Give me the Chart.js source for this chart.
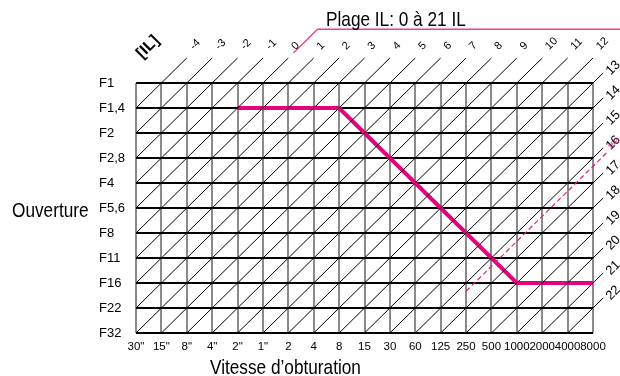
<!DOCTYPE html>
<html>
<head>
<meta charset="utf-8">
<script src="https://cdn.jsdelivr.net/npm/chart.js@4.4.1/dist/chart.umd.min.js"></script>
<style>
  html, body { margin: 0; padding: 0; background: #fff; }
  #wrap { width: 620px; height: 376px; }
</style>
</head>
<body>
<div id="wrap"><canvas id="ilChart" width="620" height="376"></canvas></div>
<script>
// Axes
const speeds = ['30"', '15"', '8"', '4"', '2"', '1"', '2', '4', '8', '15', '30', '60', '125', '250', '500', '1000', '2000', '4000', '8000']
const apertures = ['F1', 'F1,4', 'F2', 'F2,8', 'F4', 'F5,6', 'F8', 'F11', 'F16', 'F22', 'F32']

// IL (EV) lines, -4 .. 22
const ilValues = [-4, -3, -2, -1, 0, 1, 2, 3, 4, 5, 6, 7, 8, 9, 10, 11, 12, 13, 14, 15, 16, 17, 18, 19, 20, 21, 22]

// Programme line : speed / aperture at each corner
const progSpeed = ['2"', '8', '1000', '8000']
const progAperture = ['F1,4', 'F1,4', 'F16', 'F16']

// Dashed limit line (IL 16 1/3) and where it runs (speed index)
const limitIL = 16.33
const limitLabel = '16⅓'
const limitFrom = 13.0
const limitTo = 18.6

// Range bracket "Plage IL: 0 à 21 IL"
const rangeText = 'Plage IL: 0 à 21 IL'
const rangeStartIL = 0
const rangeRise = [-1.2, -2.15]  // aperture index where the bracket leaves the IL 0 line / runs flat
const rangeEnd = 19.2

const PINK = '#e5007e'

// IL value at (speed index i, aperture index j) is i + j - 5
const ilToSum = il => il + 5
const sIdx = s => speeds.indexOf(s)
const aIdx = a => apertures.indexOf(a)

function ilSegment(il) {
  const k = ilToSum(il)
  const x0 = Math.max(0, k - 10)
  const x1 = Math.min(18, k)
  // top lines run one cell past the grid, right ones only a short stub
  const ext = x1 < 18 ? 1 : 0.4
  return [{ x: x0, y: k - x0 }, { x: x1 + ext, y: k - x1 - ext }]
}

const datasets = ilValues.map(il => ({
  data: ilSegment(il),
  borderColor: '#000',
  borderWidth: 1,
}))

const k0 = ilToSum(rangeStartIL)
datasets.push({
  data: [
    { x: k0 - rangeRise[0], y: rangeRise[0] },
    { x: k0 - rangeRise[1], y: rangeRise[1] },
    { x: rangeEnd, y: rangeRise[1] },
  ],
  borderColor: '#ec3f98',
  borderWidth: 1.3,
})

const kl = ilToSum(limitIL)
datasets.push({
  data: [{ x: limitFrom, y: kl - limitFrom }, { x: limitTo, y: kl - limitTo }],
  borderColor: '#e61e88',
  borderWidth: 1.2,
  borderDash: [5, 3],
})

datasets.push({
  data: progSpeed.map((s, n) => ({ x: sIdx(s), y: aIdx(progAperture[n]) })),
  borderColor: PINK,
  borderWidth: 4,
  borderJoinStyle: 'miter',
})

datasets.forEach(d => {
  d.showLine = true
  d.pointRadius = 0
  d.clip = false
  d.tension = 0
})

function narrowText(ctx, text, x, y, size) {
  ctx.save()
  ctx.translate(x, y)
  ctx.scale(0.82, 1)
  ctx.font = `${size}px "Liberation Sans", Arimo, Arial, sans-serif`
  ctx.textAlign = 'left'
  ctx.textBaseline = 'alphabetic'
  ctx.fillStyle = '#000'
  ctx.fillText(text, 0, 0)
  ctx.restore()
}

const labelsPlugin = {
  id: 'ilLabels',
  afterDatasetsDraw(chart) {
    const { ctx, scales: { x, y } } = chart
    ctx.save()
    ilValues.forEach(il => {
      const end = ilSegment(il)[1]
      const px = x.getPixelForValue(end.x)
      const py = y.getPixelForValue(end.y)
      const onTop = end.x < 18.5 && end.y < -0.5
      ctx.save()
      if (onTop) ctx.translate(px + 5, py - 10)
      else ctx.translate(px + 5, py)
      ctx.rotate(-Math.PI / 4)
      ctx.font = `${onTop ? 11 : 13}px "Liberation Sans", Arial, sans-serif`
      ctx.fillStyle = '#000'
      ctx.textAlign = 'left'
      ctx.textBaseline = 'middle'
      ctx.fillText(String(il), 0, 0)
      ctx.restore()
    })

    // small label on the dashed line
    const lx = x.getPixelForValue(limitTo)
    const ly = y.getPixelForValue(kl - limitTo)
    ctx.save()
    ctx.translate(lx + 1, ly - 3)
    ctx.rotate(-Math.PI / 4)
    ctx.font = '7px "Liberation Sans", Arial, sans-serif'
    ctx.fillStyle = '#e61e88'
    ctx.textBaseline = 'middle'
    ctx.fillText(limitLabel, 0, 0)
    ctx.restore()

    // [IL]
    ctx.save()
    ctx.translate(148, 47)
    ctx.rotate(-Math.PI / 4)
    ctx.font = 'bold 16px "Liberation Sans", Arial, sans-serif'
    ctx.textAlign = 'center'
    ctx.textBaseline = 'middle'
    ctx.fillStyle = '#000'
    ctx.fillText('[IL]', 0, 0)
    ctx.restore()

    narrowText(ctx, rangeText, 326, 26, 21)
    narrowText(ctx, 'Ouverture', 12, 217, 21)
    narrowText(ctx, 'Vitesse d’obturation', 210, 374, 21)
    ctx.restore()
  },
}

new Chart(document.getElementById('ilChart').getContext('2d'), {
  type: 'scatter',
  data: { datasets },
  plugins: [labelsPlugin],
  options: {
    responsive: false,
    animation: false,
    events: [],
    layout: { padding: { left: 99, right: 27, top: 83, bottom: 13 } },
    plugins: { legend: { display: false }, tooltip: { enabled: false } },
    scales: {
      x: {
        type: 'linear',
        min: 0,
        max: 18,
        afterBuildTicks: s => { s.ticks = speeds.map((_, i) => ({ value: i })) },
        afterFit: s => { s.height = 30 },
        ticks: {
          callback: v => speeds[v],
          autoSkip: false,
          maxRotation: 0,
          padding: 7,
          color: '#000',
          font: { family: '"Liberation Sans", Arial, sans-serif', size: 11.5 },
        },
        grid: { color: '#8a8a8a', lineWidth: 2, drawTicks: false },
        border: { display: false },
      },
      y: {
        type: 'linear',
        min: 0,
        max: 10,
        reverse: true,
        afterBuildTicks: s => { s.ticks = apertures.map((_, i) => ({ value: i })) },
        afterFit: s => { s.width = 37 },
        ticks: {
          callback: v => apertures[v],
          autoSkip: false,
          crossAlign: 'far',
          color: '#000',
          font: { family: '"Liberation Sans", Arial, sans-serif', size: 13 },
        },
        grid: { color: '#000', lineWidth: 2, drawTicks: false },
        border: { display: false },
      },
    },
  },
})
</script>
</body>
</html>
